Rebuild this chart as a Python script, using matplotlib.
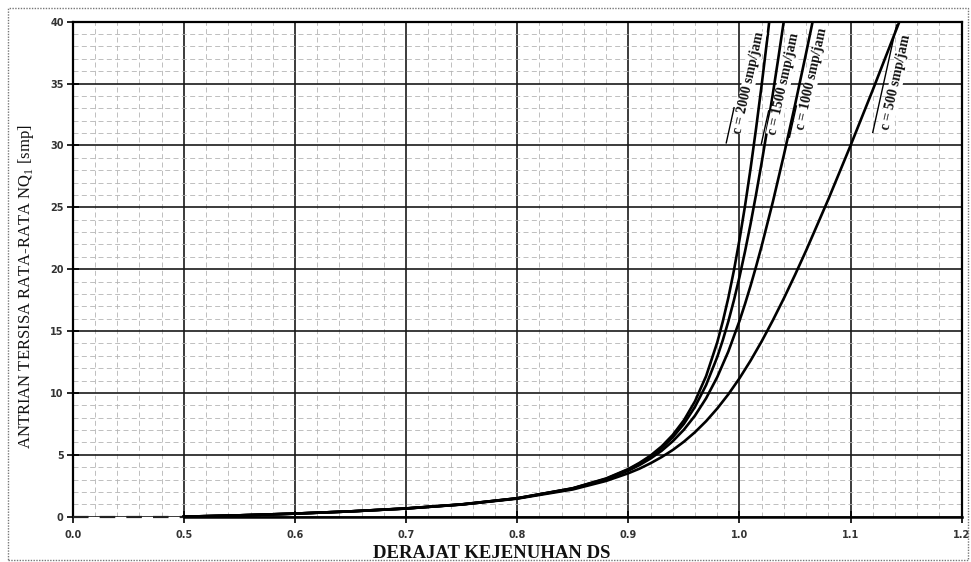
import matplotlib
matplotlib.use("Agg")
import matplotlib.pyplot as plt
import numpy as np
from matplotlib.transforms import IdentityTransform
from matplotlib.patches import Rectangle

# ---------------- data ----------------
ds_base = [0.50, 0.55, 0.60, 0.65, 0.70, 0.75, 0.80, 0.85, 0.88, 0.90]

ds_500 = ds_base + [0.91, 0.92, 0.93, 0.94, 0.95, 0.96, 0.97, 0.98, 0.99, 1.00,
                    1.01, 1.02, 1.03, 1.04, 1.05, 1.06, 1.08, 1.10, 1.12, 1.14, 1.15]
nq_500 = [0.0, 0.11, 0.25, 0.43, 0.66, 0.98, 1.46, 2.20, 2.89, 3.51,
          3.88, 4.32, 4.82, 5.39, 6.06, 6.83, 7.72, 8.74, 9.89, 11.18,
          12.61, 14.17, 15.86, 17.65, 19.54, 21.51, 25.65, 30.0, 34.49, 39.1, 41.4]

ds_1000 = ds_base + [0.91, 0.92, 0.93, 0.94, 0.95, 0.96, 0.97, 0.98, 0.99, 1.00,
                     1.005, 1.01, 1.015, 1.02, 1.03, 1.04, 1.05, 1.06, 1.07]
nq_1000 = [0.0, 0.11, 0.25, 0.43, 0.66, 0.99, 1.48, 2.27, 3.02, 3.72,
           4.17, 4.70, 5.33, 6.10, 7.03, 8.17, 9.57, 11.28, 13.35, 15.81,
           17.19, 18.66, 20.23, 21.88, 25.42, 29.24, 33.27, 37.47, 41.8]

ds_1500 = ds_base + [0.91, 0.92, 0.93, 0.94, 0.95, 0.96, 0.97, 0.98, 0.985, 0.99, 0.995, 1.00,
                     1.005, 1.01, 1.015, 1.02, 1.025, 1.03, 1.035, 1.04]
nq_1500 = [0.0, 0.11, 0.25, 0.43, 0.67, 0.99, 1.49, 2.29, 3.06, 3.81,
           4.28, 4.86, 5.55, 6.42, 7.50, 8.88, 10.64, 12.90, 14.26, 15.78, 17.48, 19.36,
           21.43, 23.66, 26.07, 28.62, 31.32, 34.14, 37.07, 40.1]

ds_2000 = ds_base + [0.91, 0.92, 0.93, 0.94, 0.95, 0.96, 0.97, 0.98, 0.985, 0.99, 0.995, 1.00,
                     1.005, 1.01, 1.015, 1.02, 1.025, 1.03]
nq_2000 = [0.0, 0.11, 0.25, 0.43, 0.67, 1.00, 1.49, 2.30, 3.09, 3.85,
           4.35, 4.94, 5.68, 6.61, 7.79, 9.33, 11.36, 14.08, 15.77, 17.69, 19.89, 22.36,
           25.11, 28.13, 31.40, 34.90, 38.60, 42.5]

curve_labels = ["c = 2000 smp/jam", "c = 1500 smp/jam", "c = 1000 smp/jam", "c = 500 smp/jam"]
label_x = [1.0085, 1.040, 1.065, 1.141]
label_y = [35.1, 35.0, 35.4, 35.1]

x_ticks = [0.4, 0.5, 0.6, 0.7, 0.8, 0.9, 1.0, 1.1, 1.2]
x_tick_labels = ["0.0", "0.5", "0.6", "0.7", "0.8", "0.9", "1.0", "1.1", "1.2"]
y_ticks = [0, 5, 10, 15, 20, 25, 30, 35, 40]

# ---------------- figure ----------------
W, H = 971, 562
fig = plt.figure(figsize=(W / 100, H / 100), dpi=100)
fig.patch.set_facecolor("white")
ax = fig.add_axes([72.7 / W, 1 - 516.7 / H, (961.7 - 72.7) / W, (516.7 - 21.7) / H])

# dotted border around figure
fig.patches.append(Rectangle((8 / W, 2 / H), (968 - 8) / W, (554 - 2) / H,
                             transform=fig.transFigure, fill=False,
                             edgecolor="#777777", linestyle=(0, (1, 1)), linewidth=1.0))

ax.set_xlim(0.4, 1.2)
ax.set_ylim(0, 40)

# grid
ax.set_xticks(x_ticks)
ax.set_xticklabels(x_tick_labels)
ax.set_yticks(y_ticks)
ax.set_xticks(np.arange(0.42, 1.2, 0.02), minor=True)
ax.set_yticks(np.arange(1, 40, 1), minor=True)
ax.grid(which="major", color="#1a1a1a", linewidth=1.2, zorder=1)
ax.grid(which="minor", color="#b4b4b4", linestyle=(0, (6, 4)), linewidth=0.6, zorder=0)
ax.set_axisbelow(True)

ax.tick_params(which="minor", length=0)
ax.tick_params(which="major", direction="inout", length=9, width=1.2, color="black",
               labelsize=7, labelcolor="#333333")
ax.tick_params(axis="x", pad=5)
ax.tick_params(axis="y", pad=2)
for lab in ax.get_xticklabels() + ax.get_yticklabels():
    lab.set_fontweight("bold")

for s in ["left", "right", "top"]:
    ax.spines[s].set_linewidth(1.6)
    ax.spines[s].set_color("black")
ax.spines["bottom"].set_visible(False)
# broken baseline
ax.plot([0.4, 0.5], [0, 0], color="#222222", linewidth=1.6, linestyle=(0, (7, 5)),
        clip_on=False, zorder=3)
ax.plot([0.5, 1.2], [0, 0], color="black", linewidth=1.8, clip_on=False, zorder=3)

# curves
for xs, ys in [(ds_500, nq_500), (ds_1000, nq_1000), (ds_1500, nq_1500), (ds_2000, nq_2000)]:
    ax.plot(xs, ys, color="black", linewidth=1.9, zorder=4, solid_joinstyle="round")

# curve labels with leader lines
ang = 77.5
u = np.array([np.cos(np.radians(ang)), np.sin(np.radians(ang))])
n = np.array([-u[1], u[0]])
lead = [(-64, -28, 9), (-64, -30, 9), (-62, -30, 9), (-54, 56, 12)]
for txt, x, y, (a0, a1, off) in zip(curve_labels, label_x, label_y, lead):
    ax.text(x, y, txt, rotation=ang, rotation_mode="anchor", ha="center", va="center",
            fontsize=10, fontweight="bold", family="Liberation Serif", color="#111111",
            zorder=6, bbox=dict(facecolor="white", edgecolor="none", pad=0.3))
    p = ax.transData.transform((x, y))
    p0 = p + n * off + u * a0
    p1 = p + n * off + u * a1
    ax.add_line(plt.Line2D([p0[0], p1[0]], [p0[1], p1[1]], transform=IdentityTransform(),
                           color="black", linewidth=1.0, zorder=6))

# axis labels
fig.text(26 / W, 1 - 287 / H, "ANTRIAN TERSISA RATA-RATA NQ$_\\mathregular{1}$ [smp]",
         rotation=90, ha="center", va="center", fontsize=12, family="Liberation Serif",
         color="#111111")
fig.text(492 / W, 1 - 553 / H, "DERAJAT KEJENUHAN DS", ha="center", va="center",
         fontsize=13.5, fontweight="bold", family="Liberation Serif", color="#111111")

fig.savefig("out.png", dpi=100)
